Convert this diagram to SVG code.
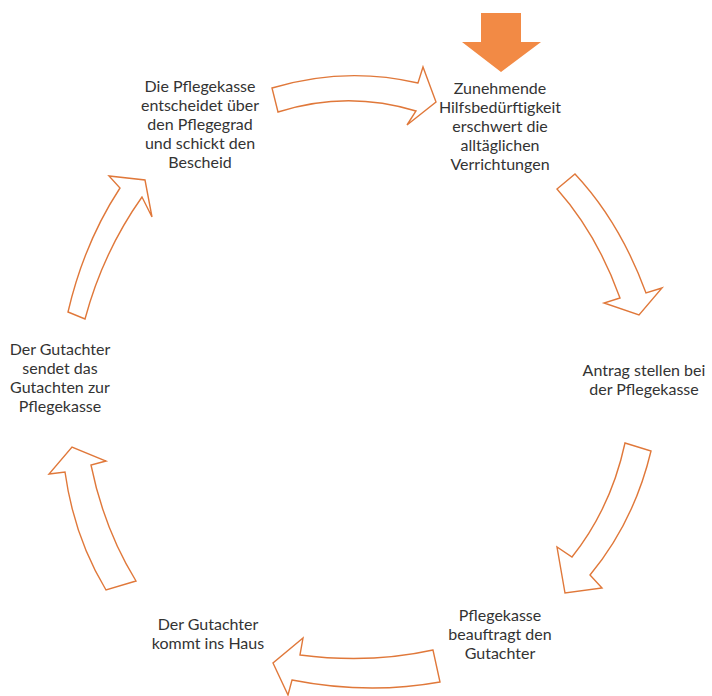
<svg xmlns="http://www.w3.org/2000/svg" width="712" height="696" viewBox="0 0 712 696">
<style>
.lbl{font-family:Lato,"Open Sans","Liberation Sans",sans-serif;font-size:16px;fill:#333;text-anchor:middle}
.cyc{fill:#fff;stroke:#E0783A;stroke-width:1.4;stroke-linejoin:miter}
.start{fill:#F28A45}
</style>
<rect width="712" height="696" fill="#fff"/>
<g id="start-arrow">
<polygon class="start" points="481,13 521,13 521,42 541,42 501,72 462,42 481,42"/>
</g>
<g id="node-hilfsbeduerftigkeit">
<text class="lbl" x="500" y="94">Zunehmende</text>
<text class="lbl" x="500" y="113">Hilfsbedürftigkeit</text>
<text class="lbl" x="500" y="132">erschwert die</text>
<text class="lbl" x="500" y="151">alltäglichen</text>
<text class="lbl" x="500" y="170">Verrichtungen</text>
</g>
<g id="node-antrag">
<text class="lbl" x="644" y="376">Antrag stellen bei</text>
<text class="lbl" x="644" y="395">der Pflegekasse</text>
</g>
<g id="node-beauftragt">
<text class="lbl" x="500" y="621">Pflegekasse</text>
<text class="lbl" x="500" y="640">beauftragt den</text>
<text class="lbl" x="500" y="659">Gutachter</text>
</g>
<g id="node-gutachter-haus">
<text class="lbl" x="208" y="630">Der Gutachter</text>
<text class="lbl" x="208" y="649">kommt ins Haus</text>
</g>
<g id="node-gutachten">
<text class="lbl" x="60" y="355">Der Gutachter</text>
<text class="lbl" x="60" y="374">sendet das</text>
<text class="lbl" x="60" y="393">Gutachten zur</text>
<text class="lbl" x="60" y="412">Pflegekasse</text>
</g>
<g id="node-bescheid">
<text class="lbl" x="200" y="92">Die Pflegekasse</text>
<text class="lbl" x="200" y="111">entscheidet über</text>
<text class="lbl" x="200" y="130">den Pflegegrad</text>
<text class="lbl" x="200" y="149">und schickt den</text>
<text class="lbl" x="200" y="168">Bescheid</text>
</g>
<g id="connectors">
<path class="cyc" d="M272,88 Q345,66 418,83 L423,67 L436,102 L407,125 L416,111 Q347,90 278,112 Z"/>
<path class="cyc" d="M557,189 L575,174 Q620,222 646,293 L662,288 L639,315 L604,303 L620,298 Q597,234 557,189 Z"/>
<path class="cyc" d="M625,443 L651,451 Q634,522 590,575 L602,588 L565,593 L557,547 L572,557 Q611,508 625,443 Z"/>
<path class="cyc" d="M433,650 Q370,664 300,655 L303,638 L273,663 L288,695 L292,680 Q368,695 440,682 Z"/>
<path class="cyc" d="M106,590 Q74,537 65,472 L49,474 L72,447 L106,461 L91,465 Q104,529 136,581 Z"/>
<path class="cyc" d="M68,312 Q84,243 120,188 L109,176 L145,180 L152,217 L142,197 Q103,252 85,319 Z"/>
</g>
</svg>
